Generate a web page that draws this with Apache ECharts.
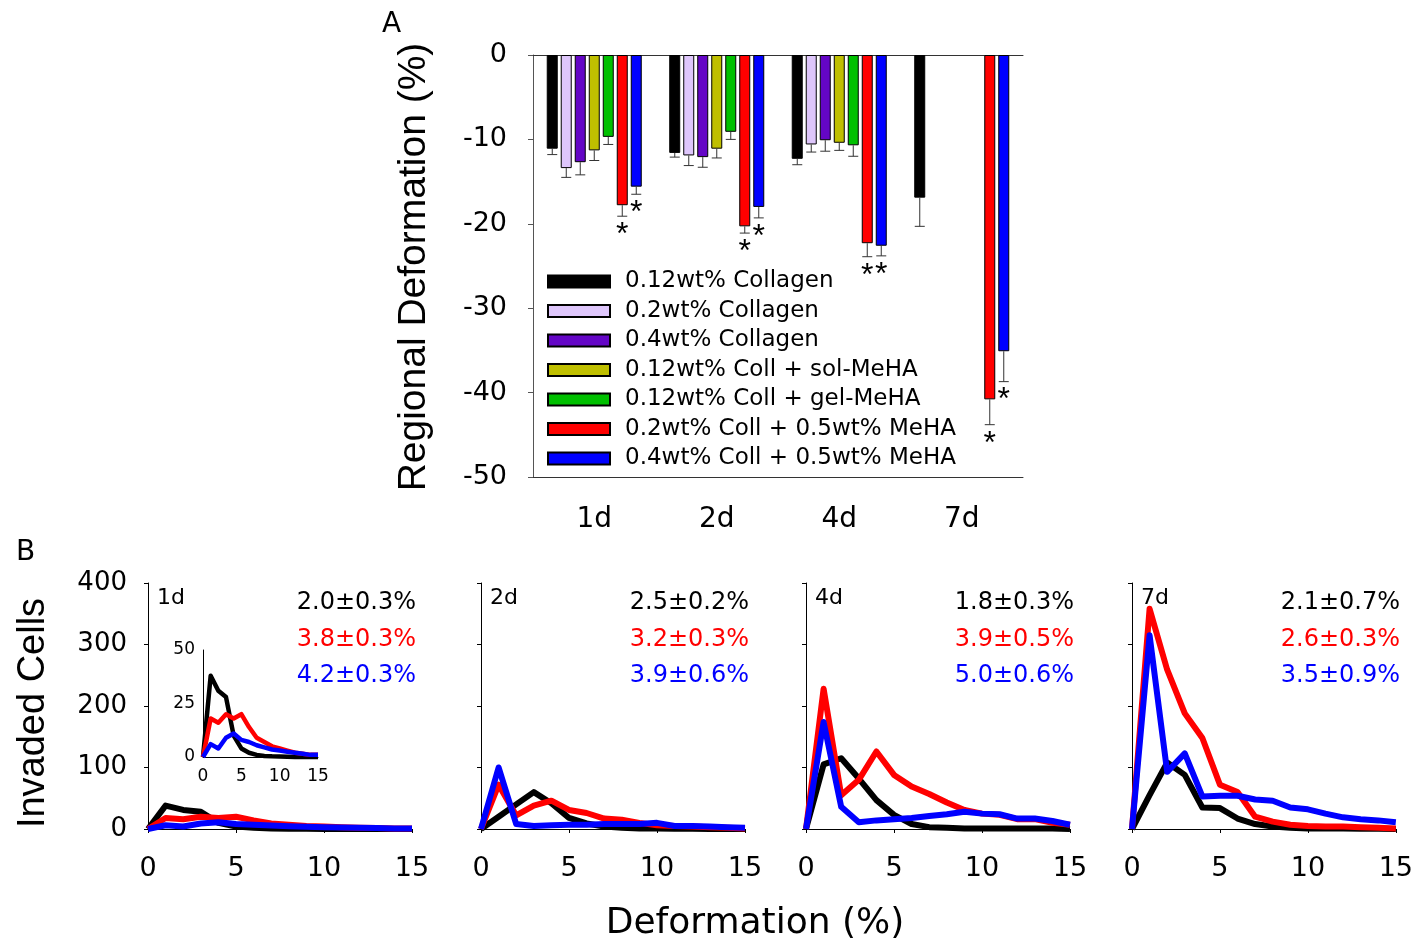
<!DOCTYPE html>
<html>
<head>
<meta charset="utf-8">
<script src="https://cdn.jsdelivr.net/npm/echarts@6/dist/echarts.min.js"></script>
<style>
  html, body { margin: 0; padding: 0; background: #fff; }
  #chart { width: 1416px; height: 946px; }
</style>
</head>
<body>
<div id="chart"></div>
<script>
// ---------- Panel A: regional deformation ----------
const timePoints = ['1d', '2d', '4d', '7d']
const groupNames = [
  '0.12wt% Collagen',
  '0.2wt% Collagen',
  '0.4wt% Collagen',
  '0.12wt% Coll + sol-MeHA',
  '0.12wt% Coll + gel-MeHA',
  '0.2wt% Coll + 0.5wt% MeHA',
  '0.4wt% Coll + 0.5wt% MeHA'
]
const groupColors = ['#000000', '#dec6fb', '#6406c6', '#bfbf00', '#00c000', '#ff0000', '#0000ff']

const coll012 = [-11.1, -11.6, -12.3, -16.9]
const coll012Err = [0.7, 0.5, 0.7, 3.4]
const coll02 = [-13.4, -11.9, -10.6, null]
const coll02Err = [1.1, 1.2, 0.9, null]
const coll04 = [-12.7, -12.1, -10.1, null]
const coll04Err = [1.5, 1.2, 1.3, null]
const solMeHA = [-11.3, -11.1, -10.4, null]
const solMeHAErr = [1.2, 1.1, 0.9, null]
const gelMeHA = [-9.7, -9.1, -10.7, null]
const gelMeHAErr = [0.9, 0.9, 1.3, null]
const coll02MeHA = [-17.8, -20.3, -22.3, -40.8]
const coll02MeHAErr = [1.3, 0.8, 1.6, 3.0]
const coll04MeHA = [-15.6, -18.0, -22.6, -35.1]
const coll04MeHAErr = [0.9, 1.3, 1.2, 3.6]
// 1 = marked with * (significant)
const coll02MeHASig = [1, 1, 1, 1]
const coll04MeHASig = [1, 1, 1, 1]
const noSig = [0, 0, 0, 0]

const means = [coll012, coll02, coll04, solMeHA, gelMeHA, coll02MeHA, coll04MeHA]
const errs = [coll012Err, coll02Err, coll04Err, solMeHAErr, gelMeHAErr, coll02MeHAErr, coll04MeHAErr]
const sigs = [noSig, noSig, noSig, noSig, noSig, coll02MeHASig, coll04MeHASig]

// ---------- Panel B: invaded cells vs deformation ----------
const deformBins = [0, 1, 2, 3, 4, 5, 6, 7, 8, 9, 10, 11, 12, 13, 14, 15]

const coll1d = [0, 38, 31, 28, 10, 4, 2, 1, 0.5, 0.3, 0.2, 0.1, 0, 0, 0, 0]
const meha02_1d = [0, 18, 16, 20, 18, 20, 14, 9, 7, 5, 4, 3, 2, 1.5, 1, 1]
const meha04_1d = [0, 6, 4, 9, 11, 8, 7, 5.5, 4.5, 3.5, 3, 2.5, 2, 1.5, 1, 1]

const coll2d = [0, 20, 40, 60, 42, 18, 9, 4, 2, 1, 1, 0.5, 0.5, 0, 0, 0]
const meha02_2d = [0, 72, 22, 38, 46, 31, 26, 17, 15, 10, 6, 5, 4, 3, 2, 1]
const meha04_2d = [0, 100, 8, 5, 6, 7, 7, 8, 8, 8, 10, 5, 5, 4, 3, 2]

const coll4d = [0, 105, 115, 82, 47, 23, 8, 3, 2, 1, 1, 1, 1, 1, 1, 0]
const meha02_4d = [0, 228, 55, 80, 126, 88, 69, 57, 43, 31, 25, 23, 16, 16, 10, 7]
const meha04_4d = [0, 174, 36, 11, 14, 16, 18, 21, 24, 28, 25, 24, 17, 17, 13, 7]

const coll7d = [0, 55, 108, 88, 35, 34, 17, 8, 4, 2, 1, 1, 1, 0.5, 0.5, 0]
const meha02_7d = [0, 358, 259, 188, 148, 72, 60, 20, 12, 7, 5, 4, 4, 3, 2, 1]
const meha04_7d = [0, 315, 93, 123, 53, 54, 54, 48, 46, 35, 32, 25, 19, 16, 14, 11]

const statsColl = ['2.0±0.3%', '2.5±0.2%', '1.8±0.3%', '2.1±0.7%']
const statsMeHA02 = ['3.8±0.3%', '3.2±0.3%', '3.9±0.5%', '2.6±0.3%']
const statsMeHA04 = ['4.2±0.3%', '3.9±0.6%', '5.0±0.6%', '3.5±0.9%']

const dayCurves = [
  [coll1d, meha02_1d, meha04_1d],
  [coll2d, meha02_2d, meha04_2d],
  [coll4d, meha02_4d, meha04_4d],
  [coll7d, meha02_7d, meha04_7d]
]
const curveColors = ['#000000', '#ff0000', '#0000ff']

// ---------- layout ----------
const SANS = 'DejaVu Sans'
const ARIAL = 'Liberation Sans'
const gridA = { left: 533, top: 55, width: 490, height: 422 }
const gridsB = [148, 481, 806, 1132].map(l => ({ left: l, top: 583, width: 264, height: 246 }))
const gridInset = { left: 203, top: 650, width: 115, height: 107 }

const chart = echarts.init(document.getElementById('chart'))

const grids = [gridA, ...gridsB, gridInset]

const xAxes = [
  {
    gridIndex: 0, type: 'category', data: timePoints, position: 'bottom',
    axisLine: { onZero: false, lineStyle: { color: '#333', width: 1 } },
    axisTick: { alignWithLabel: true, length: 5, lineStyle: { color: '#333' } },
    axisLabel: { fontFamily: SANS, fontSize: 28, color: '#000', margin: 29 },
    splitLine: { show: false }
  },
  {
    gridIndex: 0, type: 'category', data: timePoints, position: 'top',
    axisLine: { onZero: false, lineStyle: { color: '#333', width: 1 } },
    axisTick: { show: false }, axisLabel: { show: false }, splitLine: { show: false }
  }
]
const yAxes = [
  {
    gridIndex: 0, type: 'value', min: -50, max: 0, interval: 10,
    axisLine: { show: true, lineStyle: { color: '#555', width: 1 } },
    axisTick: { show: true, length: 5, lineStyle: { color: '#555' } },
    axisLabel: { fontFamily: SANS, fontSize: 27, color: '#000', margin: 26, padding: [12, 0, 0, 0] },
    splitLine: { show: false }
  }
]

gridsB.forEach((g, i) => {
  xAxes.push({
    gridIndex: i + 1, type: 'value', min: 0, max: 15, interval: 5,
    axisLine: { onZero: false, lineStyle: { color: '#000', width: 1 } },
    axisTick: { length: 4, lineStyle: { color: '#000' } },
    axisLabel: { fontFamily: SANS, fontSize: 27, color: '#000', margin: 26 },
    splitLine: { show: false }
  })
  yAxes.push({
    gridIndex: i + 1, type: 'value', min: 0, max: 400, interval: 100,
    axisLine: { show: true, onZero: false, lineStyle: { color: '#000', width: 1 } },
    axisTick: { show: true, length: 4, lineStyle: { color: '#000' } },
    axisLabel: { show: i === 0, fontFamily: SANS, fontSize: 26, color: '#000', margin: 21, padding: [8, 0, 0, 0] },
    splitLine: { show: false }
  })
})
// inset of 1d
xAxes.push({
  gridIndex: 5, type: 'value', min: 0, max: 15, interval: 5,
  axisLine: { onZero: false, lineStyle: { color: '#000', width: 1 } },
  axisTick: { show: false },
  axisLabel: { fontFamily: SANS, fontSize: 17, color: '#000', margin: 11 },
  splitLine: { show: false }
})
yAxes.push({
  gridIndex: 5, type: 'value', min: 0, max: 50, interval: 25,
  axisLine: { show: true, onZero: false, lineStyle: { color: '#000', width: 1 } },
  axisTick: { show: false },
  axisLabel: { fontFamily: SANS, fontSize: 17, color: '#000', margin: 8, padding: [3, 0, 0, 0] },
  splitLine: { show: false }
})

const series = []
const BAR_W = 11
const BAR_STEP = 14

means.forEach((vals, si) => {
  series.push({
    type: 'bar', name: groupNames[si], xAxisIndex: 0, yAxisIndex: 0,
    data: vals, barWidth: BAR_W, barGap: '27.3%',
    itemStyle: { color: groupColors[si], borderColor: '#000', borderWidth: 1 },
    emphasis: { disabled: true }
  })
})

// error bars (lower side only) + significance stars
means.forEach((vals, si) => {
  const rows = []
  vals.forEach((v, i) => { if (v != null) rows.push([i, v, errs[si][i], sigs[si][i]]) })
  series.push({
    type: 'custom', xAxisIndex: 0, yAxisIndex: 0, z: 3, silent: true,
    encode: { x: 0, y: 1 },
    data: rows,
    renderItem: (params, api) => {
      const top = api.coord([api.value(0), api.value(1)])
      const end = api.coord([api.value(0), api.value(1) - api.value(2)])
      const x = top[0] + (si - 3) * BAR_STEP
      const children = [
        { type: 'line', shape: { x1: x, y1: top[1], x2: x, y2: end[1] }, style: { stroke: '#333', lineWidth: 1 } },
        { type: 'line', shape: { x1: x - 5, y1: end[1], x2: x + 5, y2: end[1] }, style: { stroke: '#333', lineWidth: 1 } }
      ]
      if (api.value(3) === 1) {
        children.push({
          type: 'text', x: x, y: end[1] + 3,
          style: { text: '*', fontFamily: ARIAL, fontSize: 32, fill: '#000', align: 'center', verticalAlign: 'top' }
        })
      }
      return { type: 'group', children }
    }
  })
})

dayCurves.forEach((curves, di) => {
  curves.forEach((vals, ci) => {
    series.push({
      type: 'line', xAxisIndex: di + 2, yAxisIndex: di + 1,
      data: deformBins.map((x, k) => [x, vals[k]]),
      showSymbol: false, symbol: 'none', clip: false, silent: true,
      lineStyle: { color: curveColors[ci], width: 6, join: 'round' },
      z: 2 + ci
    })
  })
})
dayCurves[0].forEach((vals, ci) => {
  series.push({
    type: 'line', xAxisIndex: 6, yAxisIndex: 5,
    data: deformBins.map((x, k) => [x, vals[k]]),
    showSymbol: false, symbol: 'none', clip: false, silent: true,
    lineStyle: { color: curveColors[ci], width: 4.5, join: 'round' },
    z: 2 + ci
  })
})

const txt = (x, y, text, size, opts = {}) => ({
  type: 'text', x, y, rotation: opts.rotation || 0,
  style: {
    text, fontFamily: opts.family || SANS, fontSize: size, fill: opts.color || '#000',
    align: opts.align || 'left', verticalAlign: 'middle'
  }
})

const graphics = [
  txt(382, 25, 'A', 28),
  txt(16, 553, 'B', 28),
  txt(414, 267, 'Regional Deformation (%)', 39, { family: ARIAL, align: 'center', rotation: Math.PI / 2 }),
  txt(34, 713, 'Invaded Cells', 38, { family: ARIAL, align: 'center', rotation: Math.PI / 2 }),
  txt(755, 924, 'Deformation (%)', 36, { align: 'center' })
]
gridsB.forEach((g, i) => {
  const right = g.left + g.width + 4
  graphics.push(txt(g.left + 9, g.top + 15, timePoints[i], 22))
  graphics.push(txt(right, g.top + 20, statsColl[i], 24, { align: 'right', color: curveColors[0] }))
  graphics.push(txt(right, g.top + 57, statsMeHA02[i], 24, { align: 'right', color: curveColors[1] }))
  graphics.push(txt(right, g.top + 93, statsMeHA04[i], 24, { align: 'right', color: curveColors[2] }))
})

chart.setOption({
  animation: false,
  backgroundColor: '#fff',
  grid: grids.map(g => Object.assign({ containLabel: false }, g)),
  xAxis: xAxes,
  yAxis: yAxes,
  legend: {
    data: groupNames, orient: 'vertical', left: 547, top: 270, padding: 0,
    itemWidth: 62, itemHeight: 12, itemGap: 6.5, icon: 'rect',
    selectedMode: false,
    textStyle: { fontFamily: SANS, fontSize: 23, color: '#000', padding: [0, 0, 0, 10] }
  },
  graphic: graphics,
  series
})
</script>
</body>
</html>
